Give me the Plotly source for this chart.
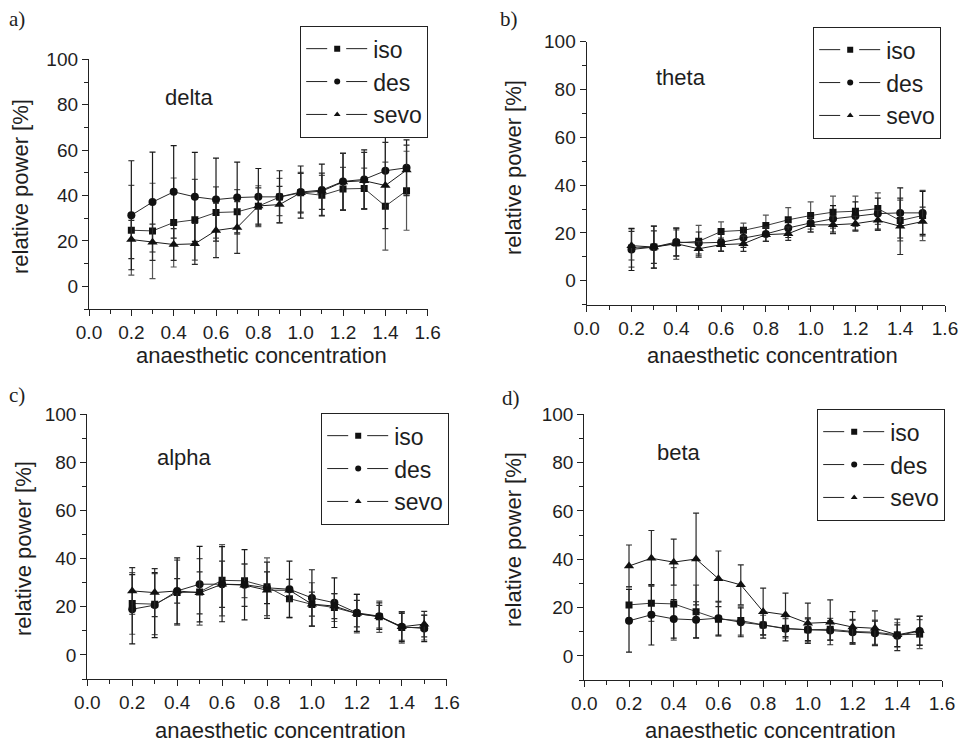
import plotly.graph_objects as go

W, H = 964, 744

conc = [0.2, 0.3, 0.4, 0.5, 0.6, 0.7, 0.8, 0.9, 1.0, 1.1, 1.2, 1.3, 1.4, 1.5]
x_ticks = [0.0, 0.2, 0.4, 0.6, 0.8, 1.0, 1.2, 1.4, 1.6]
y_ticks = [0, 20, 40, 60, 80, 100]
agents = ["iso", "des", "sevo"]
bands = ["delta", "theta", "alpha", "beta"]
letters = ["a)", "b)", "c)", "d)"]

# delta
delta_iso = [24.7, 24.4, 28.1, 29.3, 32.5, 32.8, 35.3, 39.3, 41.2, 40.1, 42.9, 43.1, 35.3, 42.1]
delta_des = [31.3, 37.1, 41.6, 39.4, 38.2, 39.1, 39.4, 39.4, 41.5, 42.4, 46.2, 47.1, 50.9, 52.2]
delta_sevo = [20.6, 19.4, 18.4, 18.7, 24.6, 25.9, 35.4, 36.0, 41.2, 41.9, 46.0, 46.5, 44.4, 51.2]
delta_iso_sd = [19.8, 21.0, 19.6, 17.8, 11.3, 9.8, 9.0, 8.2, 9.0, 8.8, 9.5, 9.0, 19.4, 17.4]
delta_des_sd = [24.0, 22.0, 20.4, 19.6, 18.3, 15.6, 12.5, 11.5, 11.5, 11.4, 12.5, 13.0, 15.6, 12.3]
delta_sevo_sd = [8.4, 8.0, 7.0, 9.0, 12.0, 11.4, 8.0, 8.0, 8.5, 8.0, 12.5, 12.5, 19.0, 11.0]

# theta
theta_iso = [13.7, 14.1, 15.8, 16.5, 20.6, 21.1, 23.1, 25.5, 27.3, 28.7, 29.1, 30.2, 25.2, 27.3]
theta_des = [13.1, 14.1, 16.2, 15.8, 16.1, 18.0, 19.6, 22.1, 24.2, 25.9, 27.1, 28.1, 28.4, 28.4]
theta_sevo = [14.7, 14.1, 15.5, 13.4, 15.1, 15.5, 19.3, 19.7, 23.4, 23.4, 23.9, 25.3, 22.8, 24.8]
theta_iso_sd = [8.0, 8.8, 5.5, 6.7, 4.0, 3.0, 4.4, 5.1, 5.7, 6.7, 6.3, 6.6, 8.5, 10.5]
theta_des_sd = [8.8, 8.8, 5.8, 4.6, 3.7, 4.0, 3.1, 4.0, 3.8, 5.5, 5.9, 6.5, 10.5, 9.0]
theta_sevo_sd = [6.0, 6.8, 6.5, 3.0, 2.8, 3.2, 2.8, 2.8, 3.0, 3.7, 3.1, 4.2, 11.8, 6.0]

# alpha
alpha_iso = [21.4, 21.1, 25.9, 26.2, 31.0, 30.8, 28.3, 23.4, 21.0, 19.7, 17.2, 15.9, 11.4, 11.4]
alpha_des = [19.0, 20.7, 26.6, 29.4, 29.4, 29.2, 27.9, 27.3, 23.7, 21.7, 17.5, 16.1, 11.7, 11.0]
alpha_sevo = [26.6, 25.9, 26.6, 25.8, 29.4, 29.0, 26.9, 26.9, 21.1, 20.3, 17.2, 15.9, 11.7, 12.8]
alpha_iso_sd = [12.8, 12.7, 13.5, 13.8, 14.8, 7.0, 12.0, 8.0, 9.0, 5.8, 8.0, 6.5, 6.5, 5.2]
alpha_des_sd = [14.4, 13.5, 13.7, 15.7, 15.6, 14.6, 6.6, 11.7, 11.7, 10.3, 7.7, 5.5, 6.2, 5.5]
alpha_sevo_sd = [9.7, 10.0, 5.1, 8.7, 9.6, 8.8, 11.7, 4.5, 5.0, 5.2, 5.5, 4.7, 5.6, 5.3]

# beta
beta_iso = [21.1, 21.8, 21.5, 18.3, 15.2, 14.6, 12.8, 11.4, 10.8, 11.0, 10.1, 9.8, 8.7, 9.0]
beta_des = [14.5, 17.0, 15.3, 14.9, 15.6, 13.9, 12.8, 11.2, 10.8, 10.5, 9.8, 9.4, 8.3, 10.3]
beta_sevo = [37.2, 40.4, 38.8, 40.1, 31.9, 29.4, 18.3, 17.0, 13.5, 13.9, 11.9, 11.4, 8.7, 10.5]
beta_iso_sd = [7.6, 7.5, 15.0, 11.0, 7.0, 6.0, 4.0, 4.0, 5.0, 4.5, 5.0, 5.0, 5.0, 6.0]
beta_des_sd = [13.0, 12.5, 8.0, 7.5, 7.0, 6.0, 5.5, 5.0, 4.5, 4.0, 5.0, 5.0, 4.5, 6.0]
beta_sevo_sd = [8.7, 11.5, 9.5, 19.0, 11.5, 8.3, 9.7, 9.0, 8.3, 9.3, 6.4, 7.2, 6.5, 6.0]

means = {
    "delta": [delta_iso, delta_des, delta_sevo],
    "theta": [theta_iso, theta_des, theta_sevo],
    "alpha": [alpha_iso, alpha_des, alpha_sevo],
    "beta": [beta_iso, beta_des, beta_sevo],
}
sds = {
    "delta": [delta_iso_sd, delta_des_sd, delta_sevo_sd],
    "theta": [theta_iso_sd, theta_des_sd, theta_sevo_sd],
    "alpha": [alpha_iso_sd, alpha_des_sd, alpha_sevo_sd],
    "beta": [beta_iso_sd, beta_des_sd, beta_sevo_sd],
}

# ---------- layout geometry (pixels) ----------
# plot boxes: (left, right, top(y=100), bottom(y=-10))
boxes = [(89, 427.7, 59.3, 309), (586.7, 945, 41.7, 304.7),
         (87.3, 446.7, 414.3, 679), (584.3, 942, 414.3, 680)]
legend_pos = [(428, 26), (941, 27), (449, 413), (945, 409)]
ytitle_pos = [(20, 187), (513, 168), (23, 549), (513, 540)]
xtitle_pos = [(261.7, 355), (772.5, 355), (280, 730), (770, 730)]
band_pos = [(188.5, 97), (681, 77), (184, 457), (679, 452)]
letter_pos = [(17, 19), (509, 19), (17, 395), (511, 398)]

symbols = ["square", "circle", "triangle-up"]
msizes = [7, 8, 9]
line_cols = ["#3a3a3a", "#262626", "#1a1a1a"]
err_cols = ["#555555", "#1a1a1a", "#2a2a2a"]

FONT = "Liberation Sans, Arial, sans-serif"
TXT = "#1e1e1e"

def px(x):
    return x / W

def py(y):
    return 1 - y / H

fig = go.Figure()
layout = dict(width=W, height=H, margin=dict(l=0, r=0, t=0, b=0, autoexpand=False),
              paper_bgcolor="white", plot_bgcolor="white", showlegend=True,
              font=dict(family=FONT, color=TXT))
annotations = []

for i, band in enumerate(bands):
    sfx = "" if i == 0 else str(i + 1)
    xa, ya = "x" + sfx, "y" + sfx
    lg = "legend" + sfx
    l, r, t, b = boxes[i]
    for j, ag in enumerate(agents):
        fig.add_trace(go.Scatter(
            x=conc, y=means[band][j], mode="lines+markers", xaxis=xa, yaxis=ya,
            line=dict(color=line_cols[j], width=1),
            marker=dict(symbol=symbols[j], size=msizes[j], color="#111111"),
            error_y=dict(type="data", array=sds[band][j], visible=True,
                         color=err_cols[j], thickness=1.2, width=3),
            showlegend=False, name=ag))
    # legend entries (line - marker - line)
    for j, ag in enumerate(agents):
        fig.add_trace(go.Scatter(
            x=[None], y=[None], mode="lines+markers", xaxis=xa, yaxis=ya,
            line=dict(color="#222222", width=1, dash="21px,19px"),
            marker=dict(symbol=symbols[j], size=6, color="#111111"),
            name=ag, legend=lg, legendgroup=f"{band}_{ag}", showlegend=True))
    axis_common = dict(showline=True, linecolor="#222222", linewidth=1.3, mirror=False,
                       ticks="outside", ticklen=6, tickwidth=1.2, tickcolor="#222222",
                       showgrid=False, zeroline=False, automargin=False,
                       tickfont=dict(family=FONT, size=19, color=TXT))
    layout["xaxis" + sfx] = dict(axis_common, domain=[px(l), px(r)], range=[0, 1.6],
                                 anchor=ya, tickvals=x_ticks, tickformat=".1f",
                                 minor=dict(ticks="outside", ticklen=4, dtick=0.1,
                                            tick0=0, tickcolor="#222222"))
    layout["yaxis" + sfx] = dict(axis_common, domain=[py(b), py(t)], range=[-10, 100],
                                 anchor=xa, tickvals=y_ticks,
                                 minor=dict(ticks="outside", ticklen=4, dtick=10,
                                            tick0=0, tickcolor="#222222"))
    lx, ly = legend_pos[i]
    layout[lg] = dict(x=px(lx), y=py(ly), xanchor="right", yanchor="top",
                      bordercolor="#222222", borderwidth=1.2, bgcolor="white",
                      font=dict(family=FONT, size=23, color=TXT),
                      tracegroupgap=0, itemwidth=62, itemclick=False)
    # texts
    tx, ty = ytitle_pos[i]
    annotations.append(dict(text="relative power [%]", x=px(tx), y=py(ty), xref="paper",
                            yref="paper", showarrow=False, textangle=-90,
                            xanchor="center", yanchor="middle",
                            font=dict(family=FONT, size=22, color=TXT)))
    tx, ty = xtitle_pos[i]
    annotations.append(dict(text="anaesthetic concentration", x=px(tx), y=py(ty),
                            xref="paper", yref="paper", showarrow=False,
                            xanchor="center", yanchor="middle",
                            font=dict(family=FONT, size=22, color=TXT)))
    tx, ty = band_pos[i]
    annotations.append(dict(text=band, x=px(tx), y=py(ty), xref="paper", yref="paper",
                            showarrow=False, xanchor="center", yanchor="middle",
                            font=dict(family=FONT, size=22, color=TXT)))
    tx, ty = letter_pos[i]
    annotations.append(dict(text=letters[i], x=px(tx), y=py(ty), xref="paper",
                            yref="paper", showarrow=False,
                            xanchor="center", yanchor="middle",
                            font=dict(family="Liberation Serif, Times New Roman, serif",
                                      size=21, color=TXT)))

layout["annotations"] = annotations
fig.update_layout(**layout)
fig.write_html("out.html", config={"displayModeBar": False},
               post_script="document.body.style.margin='0';document.body.style.overflow='hidden';")
